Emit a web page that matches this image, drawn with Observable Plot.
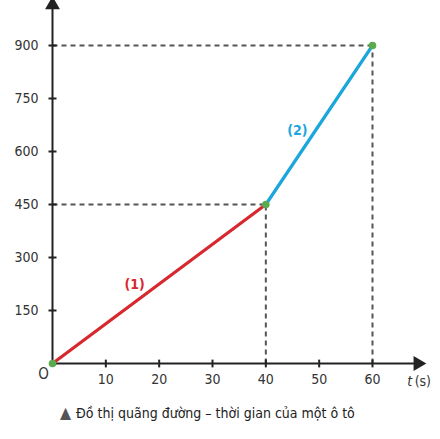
<!DOCTYPE html>
<html><head><meta charset="utf-8">
<script src="https://cdn.jsdelivr.net/npm/d3@7"></script>
<script src="https://cdn.jsdelivr.net/npm/@observablehq/plot@0.6"></script>
<style>
body{margin:0;background:#fff;}
#chart{width:440px;}
.cap{font-family:"DejaVu Sans Condensed",sans-serif;font-stretch:condensed;font-size:14px;color:#222;line-height:20px;margin:17px 0 0 0;padding-left:60px;white-space:nowrap;}
.cap .tri{color:#555;font-size:16px;margin-right:1px;}
</style>
</head><body>
<div id="chart"></div>
<script>
// data
const xTicks = [10, 20, 30, 40, 50, 60];
const yTicks = [150, 300, 450, 600, 750, 900];
const segment1 = [{t: 0, s: 0}, {t: 40, s: 450}];
const segment2 = [{t: 40, s: 450}, {t: 60, s: 900}];
const keyPoints = [{t: 0, s: 0}, {t: 40, s: 450}, {t: 60, s: 900}];
const guides = [{t: 40, s: 450}, {t: 60, s: 900}];
const segLabels = [{t: 15.4, s: 224, label: "(1)", color: "#d7282f"}, {t: 45.9, s: 659, label: "(2)", color: "#1ba6dc"}];
const xAxisEnd = 68.5;
const yAxisEnd = 1015;

const font = '"DejaVu Sans Condensed",sans-serif';
const W = 440, H = 386;
const plot = Plot.plot({
  width: W, height: H,
  marginLeft: 52, marginRight: 68, marginTop: 45, marginBottom: H - 363,
  x: {domain: [0, 60]},
  y: {domain: [0, 900]},
  style: {fontFamily: font, fontSize: "14px", color: "#333", overflow: "visible"},
  marks: [
    // dashed guides
    Plot.link(guides, {x1: 0, y1: "s", x2: "t", y2: "s", stroke: "#555", strokeWidth: 2, strokeDasharray: "5,4"}),
    Plot.link(guides, {x1: "t", y1: 0, x2: "t", y2: "s", stroke: "#555", strokeWidth: 2, strokeDasharray: "5,4"}),
    // axes labels
    Plot.axisY(yTicks, {tickSize: 0, tickPadding: 14, label: null, fill: "#333"}),
    Plot.axisX(xTicks, {tickSize: 0, tickPadding: 11, label: null, fill: "#333"}),
    // axis lines
    Plot.link([0], {x1: 0, y1: 0, x2: xAxisEnd, y2: 0, stroke: "#222", strokeWidth: 2}),
    Plot.link([0], {x1: 0, y1: 0, x2: 0, y2: yAxisEnd, stroke: "#222", strokeWidth: 2}),
    // tick marks crossing the axes
    Plot.link(yTicks, {x1: -0.75, x2: 0.75, y1: d => d, y2: d => d, stroke: "#222", strokeWidth: 2}),
    Plot.link(xTicks, {x1: d => d, x2: d => d, y1: -11, y2: 11, stroke: "#222", strokeWidth: 2}),
    Plot.dot([0], {x: xAxisEnd, y: 0, symbol: "triangle", rotate: 90, r: 5.5, fill: "#222", stroke: null}),
    Plot.dot([0], {x: 0, y: yAxisEnd, symbol: "triangle", r: 5.5, fill: "#222", stroke: null}),
    Plot.text(["O"], {x: 0, y: 0, dx: -9, dy: 11, fill: "#333", fontSize: 15}),
    Plot.text(["t"], {x: xAxisEnd, y: 0, dx: -8, dy: 18, fill: "#333", fontStyle: "italic", fontSize: 14}),
    Plot.text(["(s)"], {x: xAxisEnd, y: 0, dx: 5, dy: 18, fill: "#333", fontSize: 14}),
    // lines
    Plot.line(segment1, {x: "t", y: "s", stroke: "#d7282f", strokeWidth: 3.2}),
    Plot.line(segment2, {x: "t", y: "s", stroke: "#1ba6dc", strokeWidth: 3.2}),
    Plot.dot(keyPoints, {x: "t", y: "s", r: 3.8, fill: "#5aab4d", stroke: null}),
    Plot.text(segLabels, {x: "t", y: "s", text: "label", fill: "color", fontWeight: "bold", fontSize: 14})
  ]
});
document.getElementById("chart").appendChild(plot);
const cap = document.createElement("div");
cap.className = "cap";
cap.innerHTML = '<span class="tri">▲</span> Đồ thị quãng đường – thời gian của một ô tô';
document.getElementById("chart").appendChild(cap);
</script>
</body></html>
